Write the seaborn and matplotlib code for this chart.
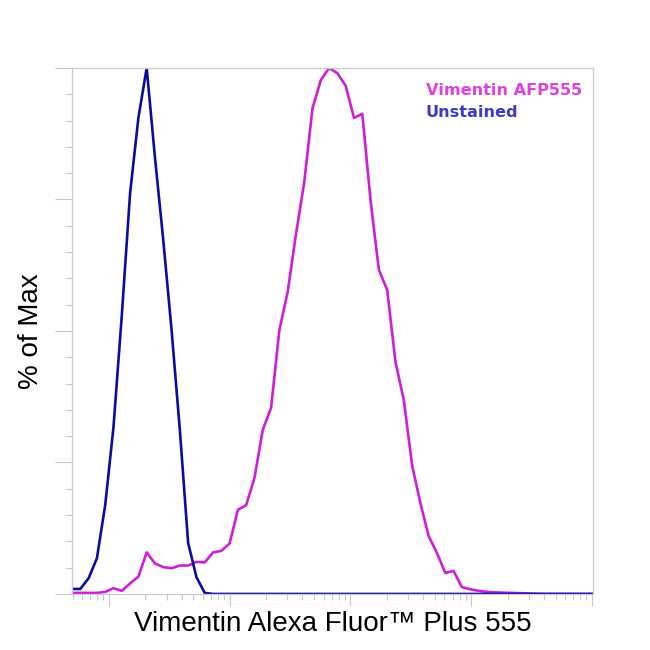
import numpy as np
import pandas as pd
import matplotlib
matplotlib.use("Agg")
import matplotlib.pyplot as plt
import matplotlib.ticker as mticker
import seaborn as sns

# Fluorescence intensity bin centres (log spaced)
intensity = [49.45, 57.9, 67.9, 79.5, 93.1, 109.0, 127.8, 149.6, 175.3, 205.3,
             240.4, 281.6, 329.9, 386.4, 452.6, 530.2, 621.1, 727.5, 852.1, 998,
             1169, 1369, 1604, 1879, 2200, 2578, 3019, 3537, 4142, 4852,
             5683, 6657, 7798, 9133, 10698, 12531, 14678, 17193, 20137, 23588,
             27630, 32364, 37910, 44400, 52010, 60920, 71360, 83590, 97900, 114700,
             134300, 157400, 184300, 215900, 252900, 296200, 347000, 406400, 476000, 557600,
             653100, 765000, 896100, 1049600]

# % of max, stained sample
vimentin = [0.2, 0.2, 0.2, 0.2, 0.4, 1.1, 0.6, 2.0, 3.3, 7.9,
            5.8, 5.1, 4.9, 5.4, 5.4, 6.1, 6.0, 7.9, 8.2, 9.6,
            16.0, 16.9, 22.1, 31.2, 35.4, 50.2, 57.4, 68.4, 78.3, 92.4,
            97.7, 100.0, 99.0, 96.6, 90.5, 91.3, 74.7, 61.6, 57.8, 44.1,
            36.9, 24.5, 17.3, 11.0, 7.8, 4.0, 4.4, 1.3, 0.9, 0.6,
            0.4, 0.3, 0.25, 0.2, 0.15, 0.1, 0.05, 0.0, 0.0, 0.0,
            0.0, 0.0, 0.0, 0.0]

# % of max, unstained control
unstained = [0.95, 0.95, 3.0, 6.8, 16.9, 31.7, 53.0, 76.2, 90.5, 100.0,
             83.0, 67.3, 50.2, 31.2, 9.7, 3.2, 0.2, 0.0, 0.0, 0.0,
             0.0, 0.0, 0.0, 0.0, 0.0, 0.0, 0.0, 0.0, 0.0, 0.0,
             0.0, 0.0, 0.0, 0.0, 0.0, 0.0, 0.0, 0.0, 0.0, 0.0,
             0.0, 0.0, 0.0, 0.0, 0.0, 0.0, 0.0, 0.0, 0.0, 0.0,
             0.0, 0.0, 0.0, 0.0, 0.0, 0.0, 0.0, 0.0, 0.0, 0.0,
             0.0, 0.0, 0.0, 0.0]

series_names = ["Vimentin AFP555", "Unstained"]
line_colors = ["#cc1fd8", "#0c0c9e"]
text_colors = ["#e040e0", "#3c3cc8"]

df = pd.DataFrame({"intensity": intensity, "Vimentin AFP555": vimentin, "Unstained": unstained})

sns.set_style("white")
plt.rcParams['font.family'] = ['Liberation Sans', 'DejaVu Sans']

fig = plt.figure(figsize=(6.5, 6.5), dpi=100)
ax = fig.add_axes([0.1108, 0.0862, 0.8015, 0.8092])
ax.set_xscale('log')

for name, col in zip(series_names, line_colors):
    sns.lineplot(data=df, x="intensity", y=name, ax=ax, color=col, linewidth=1.9)

ax.set_xlim(49.45, 1.019e6)
ax.set_ylim(0, 100)

# ticks: no labels, light grey, pointing out
ax.xaxis.set_major_locator(mticker.LogLocator(base=10))
ax.xaxis.set_minor_locator(mticker.LogLocator(base=10, subs=np.arange(2, 10)))
ax.yaxis.set_major_locator(mticker.MultipleLocator(25))
ax.yaxis.set_minor_locator(mticker.MultipleLocator(5))
ax.xaxis.set_major_formatter(mticker.NullFormatter())
ax.xaxis.set_minor_formatter(mticker.NullFormatter())
ax.yaxis.set_major_formatter(mticker.NullFormatter())
ax.tick_params(axis='x', which='major', direction='out', length=8.6, width=0.8, color='#c8c8c8', bottom=True)
ax.tick_params(axis='x', which='minor', direction='out', length=4.3, width=0.8, color='#c8c8c8', bottom=True)
ax.tick_params(axis='y', which='major', direction='out', length=12, width=0.8, color='#c8c8c8', left=True)
ax.tick_params(axis='y', which='minor', direction='out', length=5, width=0.8, color='#c8c8c8', left=True)

for side in ['left', 'right', 'top', 'bottom']:
    ax.spines[side].set_color('#cccccc')
    ax.spines[side].set_linewidth(0.9)

ax.set_xlabel("Vimentin Alexa Fluor\u2122 Plus 555", fontsize=20, labelpad=0, color='black')
ax.set_ylabel("% of Max", fontsize=20, labelpad=5, color='black')

# legend as coloured text
ax.text(0.679, 0.949, series_names[0], transform=ax.transAxes, color=text_colors[0],
        fontsize=11.6, fontweight='bold', family=['DejaVu Sans'], va='baseline')
ax.text(0.679, 0.907, series_names[1], transform=ax.transAxes, color=text_colors[1],
        fontsize=11.6, fontweight='bold', family=['DejaVu Sans'], va='baseline')

fig.savefig("out.png", dpi=100, facecolor='white')
